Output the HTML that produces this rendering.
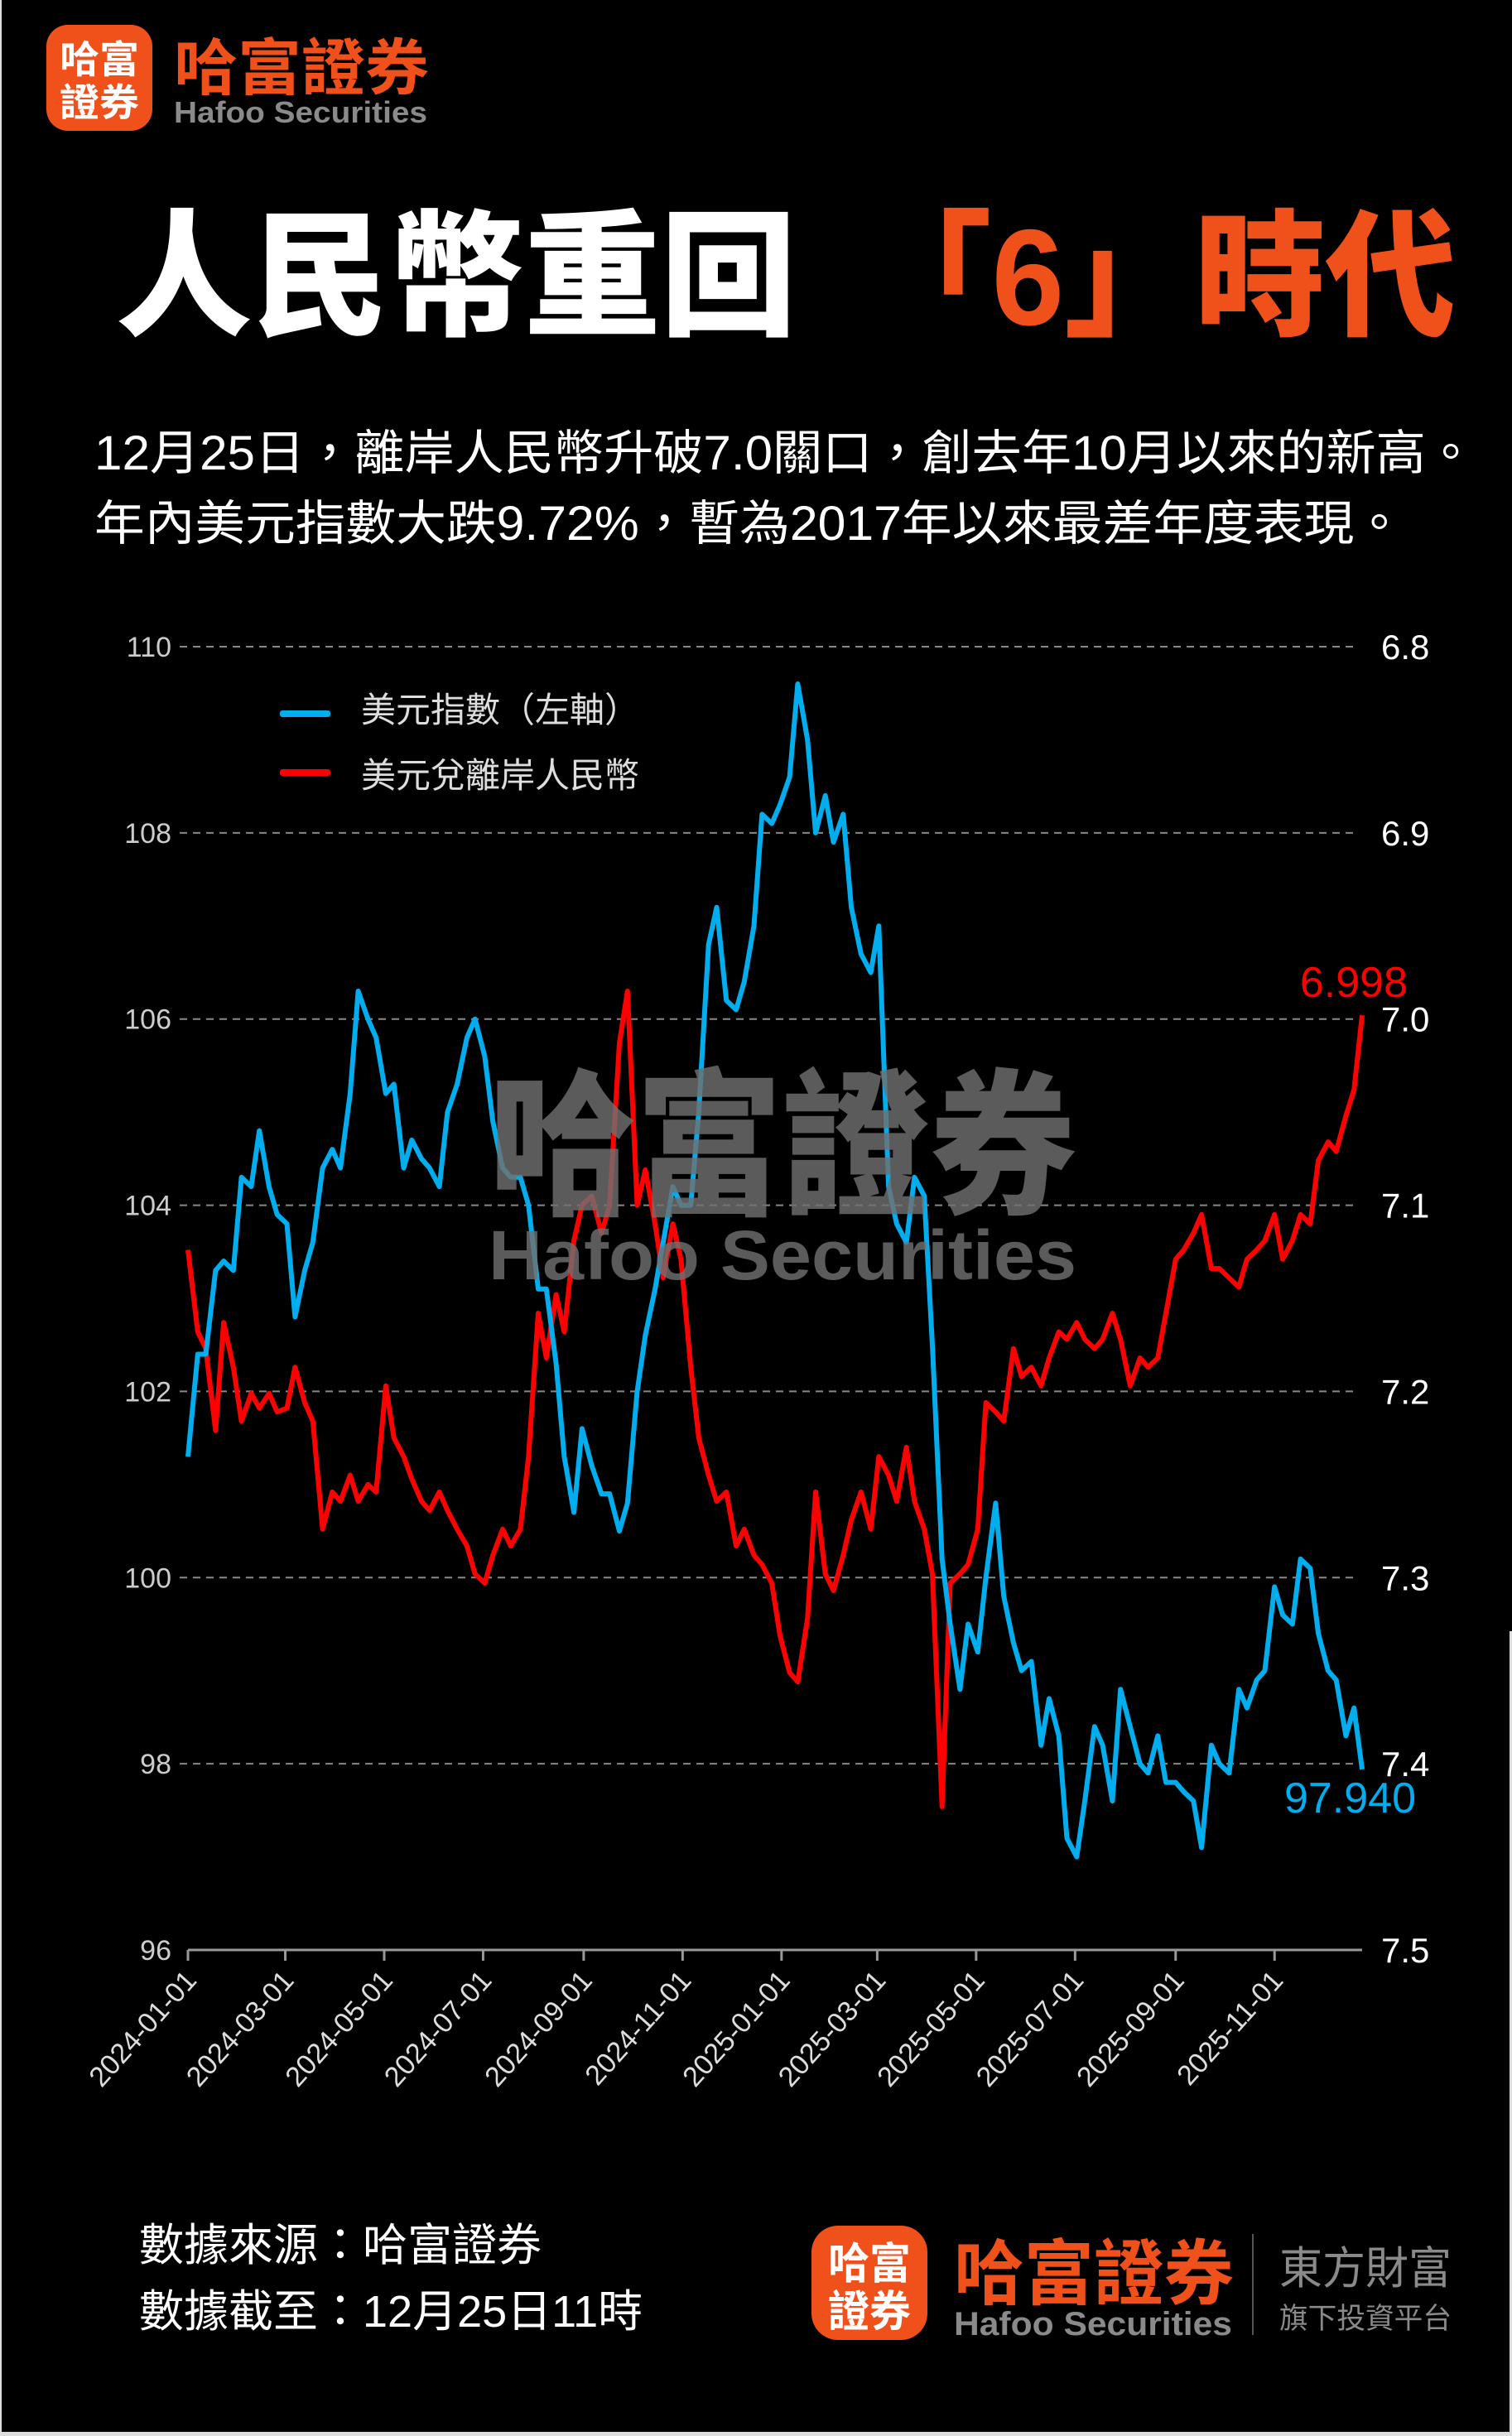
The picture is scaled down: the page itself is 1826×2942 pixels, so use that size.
<!DOCTYPE html>
<html><head><meta charset="utf-8">
<style>
html,body{margin:0;padding:0;background:#000;}
svg{display:block;}
text{font-family:"Liberation Sans","Noto Sans CJK TC",sans-serif;}
.cjk{font-family:"Liberation Sans","Noto Sans CJK TC",sans-serif;}
</style></head>
<body>
<svg id="page" xmlns="http://www.w3.org/2000/svg" width="1826" height="2942" viewBox="0 0 1826 2942">
<rect x="0" y="0" width="1826" height="2942" fill="#000"/>
<rect x="0" y="0" width="2" height="2942" fill="#ddd"/>
<rect x="1823" y="1970" width="3" height="972" fill="#ddd"/>
<rect x="0" y="2937" width="1826" height="5" fill="#ddd"/>

<g>
  <rect x="56" y="30" width="128" height="128" rx="26" fill="#f0501a"/>
  <text x="120" y="88" font-size="46" font-weight="700" fill="#fff" text-anchor="middle" textLength="96" lengthAdjust="spacingAndGlyphs">哈富</text>
  <text x="120" y="140" font-size="46" font-weight="700" fill="#fff" text-anchor="middle" textLength="96" lengthAdjust="spacingAndGlyphs">證券</text>
  <text x="210" y="108" font-size="74" font-weight="700" fill="#f0501a" textLength="308" lengthAdjust="spacingAndGlyphs">哈富證券</text>
  <text x="210" y="148" font-size="36" font-weight="700" fill="#8a8a8a" textLength="306" lengthAdjust="spacingAndGlyphs">Hafoo Securities</text>
</g>

<g>
  <text x="140" y="392" font-size="165" font-weight="900" fill="#fff" textLength="822" lengthAdjust="spacingAndGlyphs">人民幣重回</text>
  <text x="1040" y="392" font-size="165" font-weight="900" fill="#f0501a" textLength="718" lengthAdjust="spacingAndGlyphs">「6」時代</text>
</g>

<text x="114" y="567" font-size="58" fill="#fff" textLength="1668" lengthAdjust="spacingAndGlyphs">12月25日，離岸人民幣升破7.0關口，創去年10月以來的新高。</text>
<text x="114" y="652" font-size="58" fill="#fff" textLength="1582" lengthAdjust="spacingAndGlyphs">年內美元指數大跌9.72%，暫為2017年以來最差年度表現。</text>

<g id="chart"></g>

<g>
  <g>
    <rect x="338" y="858" width="61" height="8" rx="3" fill="#00aeef"/>
    <text x="436" y="872" font-size="42" fill="#ddd">美元指數（左軸）</text>
  </g>
  <g>
    <rect x="338" y="929" width="61" height="8" rx="3" fill="#ff0000"/>
    <text x="436" y="951" font-size="42" fill="#ddd">美元兌離岸人民幣</text>
  </g>
</g>

<g opacity="0.82">
  <text x="590" y="1452" font-size="190" font-weight="900" fill="#707070" textLength="710" lengthAdjust="spacingAndGlyphs">哈富證券</text>
  <text x="590" y="1545" font-size="84" font-weight="700" fill="#707070" textLength="710" lengthAdjust="spacingAndGlyphs">Hafoo Securities</text>
</g>

<g>
  <text x="168" y="2730" font-size="54" fill="#fff">數據來源：哈富證券</text>
  <text x="168" y="2810" font-size="54" fill="#fff">數據截至：12月25日11時</text>
  <rect x="980" y="2688" width="140" height="138" rx="32" fill="#f0501a"/>
  <text x="1050" y="2752" font-size="52" font-weight="700" fill="#fff" text-anchor="middle" textLength="100" lengthAdjust="spacingAndGlyphs">哈富</text>
  <text x="1050" y="2810" font-size="52" font-weight="700" fill="#fff" text-anchor="middle" textLength="100" lengthAdjust="spacingAndGlyphs">證券</text>
  <text x="1152" y="2776" font-size="86" font-weight="700" fill="#f0501a" textLength="338" lengthAdjust="spacingAndGlyphs">哈富證券</text>
  <text x="1152" y="2820" font-size="40" font-weight="700" fill="#8a8a8a" textLength="336" lengthAdjust="spacingAndGlyphs">Hafoo Securities</text>
  <rect x="1512" y="2698" width="2" height="122" fill="#555"/>
  <text x="1545" y="2758" font-size="54" fill="#8a8a8a" textLength="208" lengthAdjust="spacingAndGlyphs">東方財富</text>
  <text x="1545" y="2812" font-size="35" fill="#8a8a8a" textLength="208" lengthAdjust="spacingAndGlyphs">旗下投資平台</text>
</g>
</svg>

<script>
// days since 2024-01-01
const days = [0,6,11,17,22,28,33,39,44,50,55,61,66,72,77,83,89,94,100,105,111,116,122,127,133,138,144,149,155,160,166,172,177,183,188,194,199,205,210,216,221,227,232,238,243,249,255,260,266,271,277,282,288,293,299,304,310,315,321,326,332,338,343,349,354,360,365,371,376,382,387,393,398,404,409,415,421,426,432,437,443,448,454,459,
465,470,476,481,487,492,498,503,509,514,520,526,531,537,542,548,553,559,564,570,575,581,587,592,598,603,609,614,620,625,631,636,642,648,653,659,664,670,675,681,686,692,697,703,708,714,719,724];
const dxyValues = [101.3,102.4,102.4,103.3,103.4,103.3,104.3,104.2,104.8,104.2,
103.9,103.8,102.8,103.3,103.6,104.4,104.6,104.4,105.2,106.3,
106.0,105.8,105.2,105.3,104.4,104.7,104.5,104.4,104.2,105.0,
105.3,105.8,106.0,105.6,104.9,104.4,104.3,104.3,104.0,103.1,
103.1,102.3,101.3,100.7,101.6,101.2,100.9,100.9,100.5,100.8,
102.0,102.6,103.1,103.6,104.2,104.0,104.0,105.0,106.8,107.2,
106.2,106.1,106.4,107.0,108.2,108.1,108.3,108.6,109.6,109.0,
108.0,108.4,107.9,108.2,107.2,106.7,106.5,107.0,104.2,103.8,
103.6,104.3,104.1,102.5,
100.2,99.5,98.8,99.5,99.2,100.0,100.8,99.8,99.3,99.0,
99.1,98.2,98.7,98.3,97.2,97.0,97.6,98.4,98.2,97.6,
98.8,98.4,98.0,97.9,98.3,97.8,97.8,97.7,97.6,97.1,
98.2,98.0,97.9,98.8,98.6,98.9,99.0,99.9,99.6,99.5,
100.2,100.1,99.4,99.0,98.9,98.3,98.6,97.94];
const cnhValues = [7.124,7.168,7.177,7.221,7.163,7.187,7.216,7.201,7.209,7.201,
7.211,7.209,7.187,7.206,7.216,7.274,7.254,7.259,7.245,7.259,
7.250,7.254,7.197,7.225,7.235,7.247,7.259,7.264,7.254,7.264,
7.274,7.283,7.298,7.303,7.288,7.274,7.283,7.274,7.235,7.158,
7.182,7.148,7.168,7.119,7.100,7.095,7.115,7.100,7.013,6.985,
7.100,7.081,7.110,7.139,7.110,7.129,7.187,7.225,7.245,7.259,
7.254,7.283,7.274,7.288,7.293,7.303,7.331,7.351,7.356,7.322,
7.254,7.298,7.307,7.288,7.269,7.254,7.274,7.235,7.245,7.259,
7.230,7.259,7.274,7.298,
7.423,7.303,7.298,7.293,7.274,7.206,7.211,7.216,7.177,7.192,
7.187,7.197,7.182,7.168,7.172,7.163,7.172,7.177,7.172,7.158,
7.172,7.197,7.182,7.187,7.182,7.158,7.129,7.124,7.115,7.105,
7.134,7.134,7.139,7.144,7.129,7.124,7.119,7.105,7.129,7.119,
7.105,7.110,7.076,7.066,7.071,7.052,7.038,6.998];
const leftTicks = [96,98,100,102,104,106,108,110];
const rightTicks = ["7.5","7.4","7.3","7.2","7.1","7.0","6.9","6.8"];
const xTickLabels = ["2024-01-01","2024-03-01","2024-05-01","2024-07-01","2024-09-01","2024-11-01","2025-01-01","2025-03-01","2025-05-01","2025-07-01","2025-09-01","2025-11-01"];
const xTickDays = [0,60,121,182,244,305,366,425,486,547,609,670];
const lastDxyLabel = "97.940";
const lastCnhLabel = "6.998";

const NS = "http://www.w3.org/2000/svg";
const X0 = 227, X1 = 1645, Y0 = 2355, Y1 = 781, DAYMAX = 724;
function xScale(d){ return X0 + (d / DAYMAX) * (X1 - X0); }
function yLeft(v){ return Y0 - (v - 96) / 14 * (Y0 - Y1); }
function yRight(v){ return Y1 + (v - 6.8) / 0.7 * (Y0 - Y1); }
const chart = document.getElementById('chart');
function mk(tag, attrs, parent){
  const e = document.createElementNS(NS, tag);
  for (const k in attrs) e.setAttribute(k, attrs[k]);
  (parent || chart).appendChild(e);
  return e;
}

// gridlines and tick labels
leftTicks.forEach((t, i) => {
  const y = yLeft(t);
  let line;
  if (i === 0) {
    line = mk('line', {x1: X0, x2: X1, y1: y, y2: y, stroke: '#999', 'stroke-width': 3});
  } else {
    line = mk('line', {x1: X0 - 10, x2: X1 - 10, y1: y, y2: y, stroke: '#888', 'stroke-width': 2, 'stroke-dasharray': '9 7'});
  }
  
  
  const lt = mk('text', {x: 207, y: y + 12, 'font-size': 34, fill: '#ccc', 'text-anchor': 'end'});
  lt.textContent = t;
  
  
  const rt = mk('text', {x: 1668, y: y + 15, 'font-size': 42, fill: '#fff'});
  rt.textContent = rightTicks[i];
  
  
});

// x ticks
xTickDays.forEach((d, i) => {
  const x = xScale(d);
  const tk = mk('line', {x1: x, x2: x, y1: Y0, y2: Y0 + 13, stroke: '#999', 'stroke-width': 3});
  
  
  const tx = mk('text', {x: x + 12, y: Y0 + 38, 'font-size': 34, fill: '#ddd', 'text-anchor': 'end', transform: `rotate(-48 ${x + 12} ${Y0 + 38})`});
  tx.textContent = xTickLabels[i];
  
  
});

// series
function pathFor(vals, ys){
  return vals.map((v, i) => (i ? 'L' : 'M') + xScale(days[i]).toFixed(1) + ' ' + ys(v).toFixed(1)).join(' ');
}
const redLine = mk('path', {d: pathFor(cnhValues, yRight), fill: 'none', stroke: '#ff0000', 'stroke-width': 6, 'stroke-linejoin': 'round'});


const blueLine = mk('path', {d: pathFor(dxyValues, yLeft), fill: 'none', stroke: '#00aeef', 'stroke-width': 6, 'stroke-linejoin': 'round'});



const lc = mk('text', {x: 1700, y: yRight(cnhValues[cnhValues.length - 1]) - 22, 'font-size': 52, fill: '#ff0000', 'text-anchor': 'end'});
lc.textContent = lastCnhLabel;


const ld = mk('text', {x: 1710, y: yLeft(dxyValues[dxyValues.length - 1]) + 52, 'font-size': 52, fill: '#00aeef', 'text-anchor': 'end'});
ld.textContent = lastDxyLabel;


</script>
</body></html>
